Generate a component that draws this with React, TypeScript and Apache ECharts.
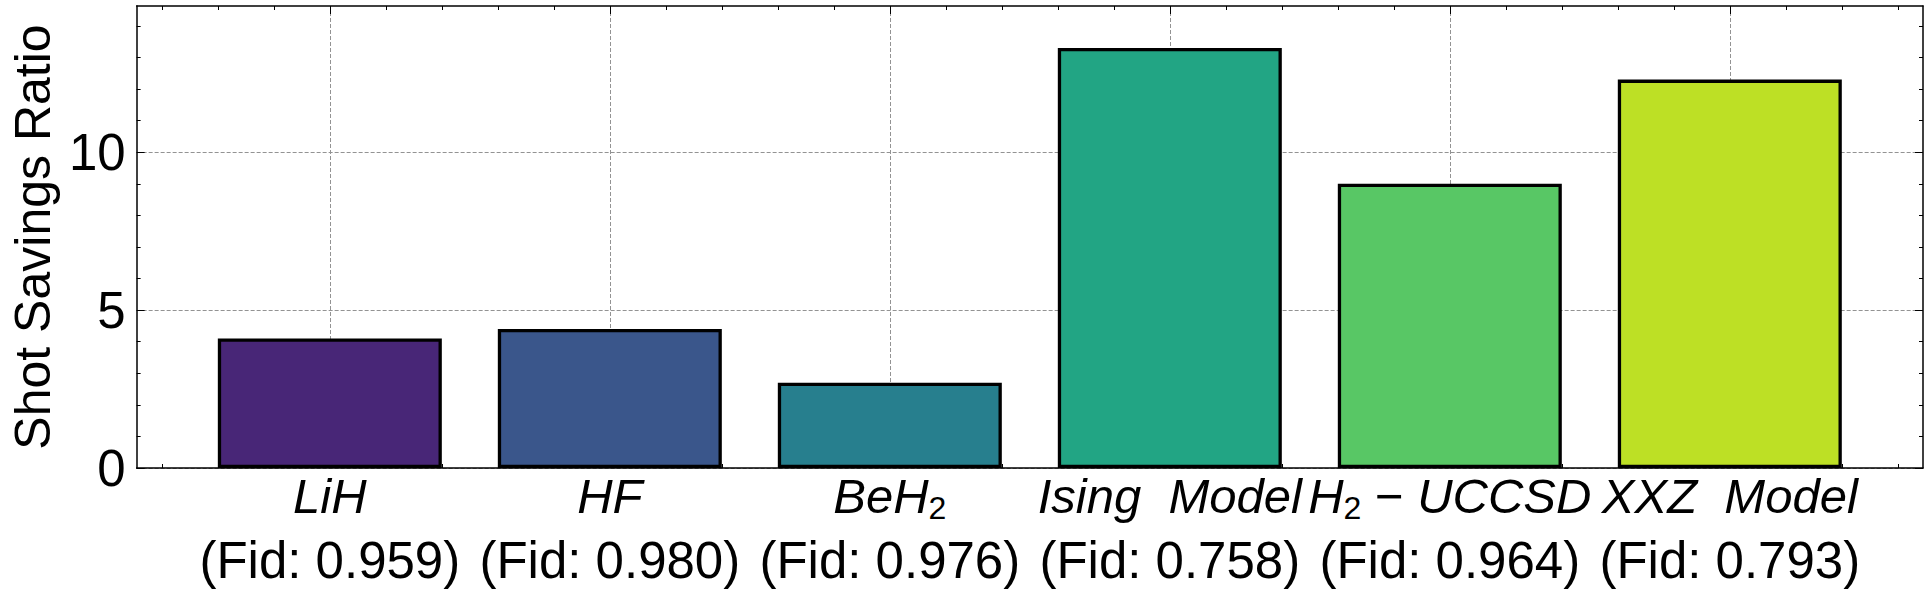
import React, { useEffect, useRef } from 'react';
import * as echarts from 'echarts';

// ---- data ----
const categories = ['LiH', 'HF', 'BeH2', 'Ising Model', 'H2 − UCCSD', 'XXZ Model'];
const categoryLabels = [
  '{it|LiH}',
  '{it|HF}',
  '{it|BeH}{sub|2}',
  '{it|Ising  Model}',
  '{it|H}{sub|2}{n| − }{it|UCCSD}',
  '{it|XXZ  Model}',
];
const fidelities = ['0.959', '0.980', '0.976', '0.758', '0.964', '0.793'];
const shotSavings = [4.1, 4.4, 2.7, 13.3, 9.0, 12.3];
const barColors = ['#482677', '#3a568b', '#277f8e', '#22a584', '#58c765', '#bde025'];
const yMajorTicks = [0, 5, 10];

const FONT = '"Liberation Sans", Arial, sans-serif';

export default function App() {
  const ref = useRef<HTMLDivElement>(null);

  useEffect(() => {
    if (!ref.current) return;
    const chart = echarts.init(ref.current, null, { renderer: 'svg' });

    const n = categories.length;
    const xMin = -0.69;
    const xMax = n - 1 + 0.69;
    const yMax = Math.max(...shotSavings) * 1.1;
    const xMajor = categories.map((_, i) => i);
    const xMinor: number[] = [];
    for (let k = -3; k <= (n - 1) * 5 + 3; k++) {
      const v = Math.round(k * 2) / 10;
      if (k % 5 !== 0 && v > xMin && v < xMax) xMinor.push(v);
    }
    const yMinor: number[] = [];
    for (let v = 1; v < yMax; v++) if (v % 5 !== 0) yMinor.push(v);

    const frameLine = { show: true, onZero: false, lineStyle: { color: '#000', width: 1.5 } };
    const noLine = { show: false, onZero: false };
    const gridLine = { show: true, lineStyle: { color: '#939393', width: 1, type: [4, 2] } };
    const majorTick = (vals: number[]) => ({
      show: true, inside: true, length: 8, customValues: vals,
      lineStyle: { color: '#000', width: 1 },
    });
    const minorTickAx = (vals: number[]) => ({
      show: true, inside: true, length: 4, customValues: vals,
      lineStyle: { color: '#000', width: 1 },
    });

    const xBase = { type: 'value', min: xMin, max: xMax, gridIndex: 0 };
    const yBase = { type: 'value', min: 0, max: yMax, gridIndex: 0 };

    chart.setOption({
      animation: false,
      backgroundColor: '#fff',
      grid: { left: 129, right: 9, top: 6, bottom: 126, containLabel: false },
      xAxis: [
        {
          ...xBase,
          position: 'bottom',
          axisLine: frameLine,
          axisTick: majorTick(xMajor),
          minorTick: { show: false },
          splitLine: gridLine,
          axisLabel: {
            show: true,
            customValues: xMajor,
            margin: 0,
            color: '#000',
            formatter: (v: number) => {
              const i = Math.round(v);
              return `${categoryLabels[i]}\n{n2|(Fid: ${fidelities[i]})}`;
            },
            rich: {
              it: { fontFamily: FONT, fontSize: 49, fontStyle: 'italic', color: '#000', lineHeight: 56 },
              n: { fontFamily: FONT, fontSize: 49, color: '#000', lineHeight: 56 },
              sub: { fontFamily: FONT, fontSize: 32, color: '#000', lineHeight: 34, verticalAlign: 'bottom' },
              n2: { fontFamily: FONT, fontSize: 51, color: '#000', lineHeight: 72 },
            },
          },
        },
        {
          ...xBase,
          position: 'top',
          axisLine: frameLine,
          axisTick: majorTick(xMajor),
          axisLabel: { show: false },
          splitLine: { show: false },
        },
        {
          ...xBase,
          position: 'bottom',
          axisLine: noLine,
          axisTick: minorTickAx(xMinor),
          axisLabel: { show: false },
          splitLine: { show: false },
        },
        {
          ...xBase,
          position: 'top',
          axisLine: noLine,
          axisTick: minorTickAx(xMinor),
          axisLabel: { show: false },
          splitLine: { show: false },
        },
      ],
      yAxis: [
        {
          ...yBase,
          position: 'left',
          name: 'Shot Savings Ratio',
          nameLocation: 'middle',
          nameRotate: 90,
          nameGap: 75,
          nameTextStyle: { fontFamily: FONT, fontSize: 50, color: '#000' },
          axisLine: frameLine,
          axisTick: majorTick(yMajorTicks),
          splitLine: gridLine,
          axisLabel: {
            show: true,
            customValues: yMajorTicks,
            margin: 11,
            fontFamily: FONT,
            fontSize: 51,
            color: '#000',
            padding: [6, 0, 0, 0],
          },
        },
        {
          ...yBase,
          position: 'right',
          axisLine: frameLine,
          axisTick: majorTick(yMajorTicks),
          axisLabel: { show: false },
          splitLine: { show: false },
        },
        {
          ...yBase,
          position: 'left',
          axisLine: noLine,
          axisTick: minorTickAx(yMinor),
          axisLabel: { show: false },
          splitLine: { show: false },
        },
        {
          ...yBase,
          position: 'right',
          axisLine: noLine,
          axisTick: minorTickAx(yMinor),
          axisLabel: { show: false },
          splitLine: { show: false },
        },
      ],
      series: [
        {
          type: 'bar',
          xAxisIndex: 0,
          yAxisIndex: 0,
          barWidth: '80%',
          data: shotSavings.map((v, i) => ({
            value: [i, v],
            name: categories[i],
            itemStyle: { color: barColors[i], borderColor: '#000', borderWidth: 3.3 },
          })),
        },
      ],
    });

    return () => chart.dispose();
  }, []);

  return (
    <div
      ref={ref}
      style={{ position: 'fixed', left: 0, top: 0, width: 1932, height: 594, background: '#fff' }}
    />
  );
}
